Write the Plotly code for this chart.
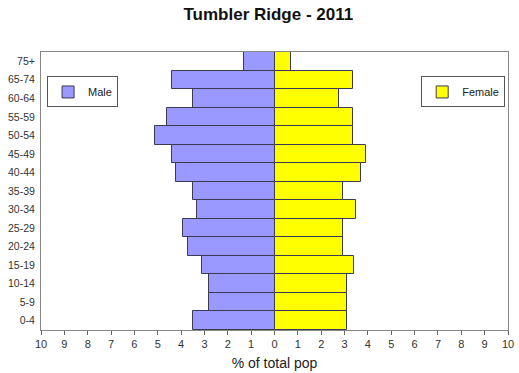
import plotly.graph_objects as go

# Age groups, bottom to top
age_groups = ["0-4", "5-9", "10-14", "15-19", "20-24", "25-29", "30-34",
              "35-39", "40-44", "45-49", "50-54", "55-59", "60-64", "65-74", "75+"]

# Percent of total population
male_pct = [3.5, 2.8, 2.8, 3.1, 3.7, 3.9, 3.3, 3.5, 4.2, 4.4, 5.1, 4.6, 3.5, 4.4, 1.3]
female_pct = [3.1, 3.1, 3.1, 3.4, 2.95, 2.95, 3.5, 2.95, 3.7, 3.9, 3.35, 3.35, 2.75, 3.35, 0.7]

tick_vals = list(range(-10, 11))
tick_text = [str(abs(v)) for v in tick_vals]

outline = dict(color="#3a3a50", width=1)
base_font = "Liberation Sans, Arial, sans-serif"

fig = go.Figure()
fig.add_trace(go.Bar(
    y=age_groups, x=[-v for v in male_pct], name="Male", orientation="h",
    marker=dict(color="#9999FF", line=outline), legend="legend",
    customdata=male_pct, hovertemplate="%{y}: %{customdata}%<extra>Male</extra>",
))
fig.add_trace(go.Bar(
    y=age_groups, x=female_pct, name="Female", orientation="h",
    marker=dict(color="#FFFF00", line=outline), legend="legend2",
    hovertemplate="%{y}: %{x}%<extra>Female</extra>",
))

legend_style = dict(
    bgcolor="white", bordercolor="#555555", borderwidth=1,
    font=dict(family=base_font, size=11, color="#222222"),
    itemwidth=30, yanchor="top",
)

fig.update_layout(
    width=519, height=373,
    margin=dict(l=41, r=11, t=52, b=43),
    paper_bgcolor="white", plot_bgcolor="white",
    barmode="overlay", bargap=0,
    showlegend=True,
    title=dict(text="<b>Tumbler Ridge - 2011</b>", x=0.517, xanchor="center",
               y=0.962, yanchor="middle",
               font=dict(family=base_font, size=17, color="#111111")),
    font=dict(family=base_font, color="#333333"),
    legend=dict(x=0.013, y=0.912, xanchor="left", **legend_style),
    legend2=dict(x=0.994, y=0.912, xanchor="right", **legend_style),
    xaxis=dict(
        range=[-10, 10], tickvals=tick_vals, ticktext=tick_text,
        ticks="outside", ticklen=4, tickcolor="#666666",
        showgrid=False, zeroline=False, automargin=False,
        showline=True, linecolor="#888888", linewidth=1, mirror=True,
        tickfont=dict(size=11, color="#333333"),
        title=dict(text="% of total pop", font=dict(size=14, color="#222222"), standoff=8),
    ),
    yaxis=dict(
        categoryorder="array", categoryarray=age_groups,
        showgrid=False, zeroline=False, ticks="", automargin=False,
        showline=True, linecolor="#888888", linewidth=1, mirror=True,
        tickfont=dict(size=10.5, color="#333333"), ticklabelstandoff=3,
    ),
)

fig.write_html("out.html")
